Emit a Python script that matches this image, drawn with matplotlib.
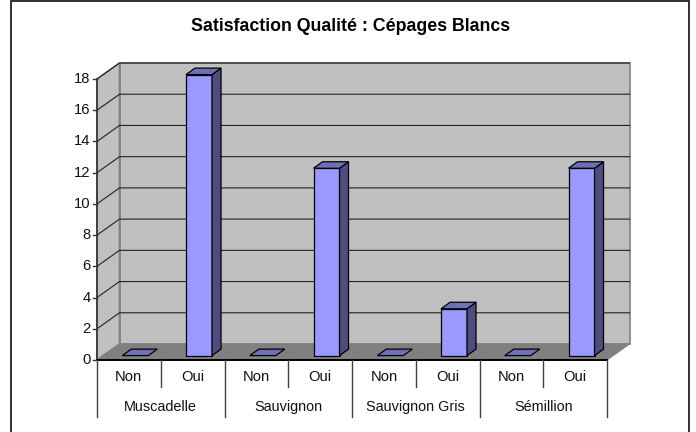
import matplotlib
matplotlib.use('Agg')
import matplotlib.pyplot as plt
from matplotlib.patches import Polygon

plt.rcParams['font.family'] = ['Liberation Sans', 'DejaVu Sans']

groups = ['Muscadelle', 'Sauvignon', 'Sauvignon Gris', 'Sémillion']
answers = ['Non', 'Oui', 'Non', 'Oui', 'Non', 'Oui', 'Non', 'Oui']
values = [0, 18, 0, 12, 0, 3, 0, 12]
yticks = [0, 2, 4, 6, 8, 10, 12, 14, 16, 18]

W, H = 696, 432
fig = plt.figure(figsize=(W / 100, H / 100), dpi=100, facecolor='white')

# axes = front plane of the fake 3d box
left, right, bottom, top = 97, 607, 360, 79
ax = fig.add_axes([left / W, 1 - bottom / H, (right - left) / W, (bottom - top) / H])
ax.set_xlim(0, 8)
ax.set_ylim(0, 18)
ax.axis('off')

px = 8 / (right - left)
py = 18 / (bottom - top)
depth_x = 22.5 * px
depth_y = 16 * py


def poly(points, color, edge='black', lw=0.9, z=2):
    ax.add_patch(Polygon(points, closed=True, facecolor=color, edgecolor=edge,
                         lw=lw, zorder=z, clip_on=False, joinstyle='miter'))


# walls and floor
poly([(depth_x, depth_y), (8 + depth_x, depth_y), (8 + depth_x, 18 + depth_y), (depth_x, 18 + depth_y)],
     '#C0C0C0', edge='#808080', lw=1.2, z=1)
poly([(0, 0), (depth_x, depth_y), (depth_x, 18 + depth_y), (0, 18)], '#C0C0C0', edge='#808080', lw=1.2, z=1)
poly([(0, 0), (8, 0), (8 + depth_x, depth_y), (depth_x, depth_y)], '#808080', edge='#808080', lw=0.8, z=1)

for v in yticks[1:]:
    ax.plot([0, depth_x, 8 + depth_x], [v, v + depth_y, v + depth_y], color='#222222', lw=0.8,
            zorder=1.5, clip_on=False, solid_joinstyle='miter')

# bars
bar_w = 26 * px
off_x = 6.4 * px
off_y = 4.4 * py
bd_x = 9 * px
bd_y = 6.5 * py
for i, v in enumerate(values):
    x0 = i + 0.5 + off_x - bar_w / 2
    x1 = x0 + bar_w
    y0 = off_y
    y1 = off_y + v
    if v > 0:
        poly([(x0, y0), (x1, y0), (x1, y1), (x0, y1)], '#9999FF', z=3)
        poly([(x1, y0), (x1 + bd_x, y0 + bd_y), (x1 + bd_x, y1 + bd_y), (x1, y1)], '#4D4D80', z=3)
    poly([(x0, y1), (x1, y1), (x1 + bd_x, y1 + bd_y), (x0 + bd_x, y1 + bd_y)], '#7070B8', z=3)

# y axis
ax.plot([0, 0], [0, 18], color='#404040', lw=1.4, zorder=4, clip_on=False)
ax.plot([0, 8], [0, 0], color='black', lw=1.4, zorder=4, clip_on=False)
for v in yticks:
    ax.plot([-4 * px, 0], [v, v], color='#333333', lw=1.0, zorder=4, clip_on=False)
    ax.text(-6.5 * px, v, str(v), ha='right', va='center', fontsize=10.6, color='#111111')

# two-level category axis
short_y = -27 * py
long_y = -57 * py
for i in range(9):
    ax.plot([i, i], [0, long_y if i % 2 == 0 else short_y], color='#404040', lw=1.0,
            zorder=4, clip_on=False)
for i, name in enumerate(answers):
    ax.text(i + 0.5, -21 * py, name, ha='center', va='baseline', fontsize=10.6, color='#111111')
for i, name in enumerate(groups):
    ax.text(2 * i + 1, -51 * py, name, ha='center', va='baseline', fontsize=10.4, color='#111111')

fig.text(351 / W, 1 - 31 / H, 'Satisfaction Qualité : Cépages Blancs', ha='center', va='baseline',
         fontsize=12.75, fontweight='bold', color='black')

# chart frame, open at the bottom
fig.add_artist(plt.Line2D([11 / W, 11 / W, 689 / W, 689 / W], [0, 1 - 0.8 / H, 1 - 0.8 / H, 0],
                          color='#222222', lw=1.3, solid_joinstyle='miter'))

fig.savefig('out.png', dpi=100)
